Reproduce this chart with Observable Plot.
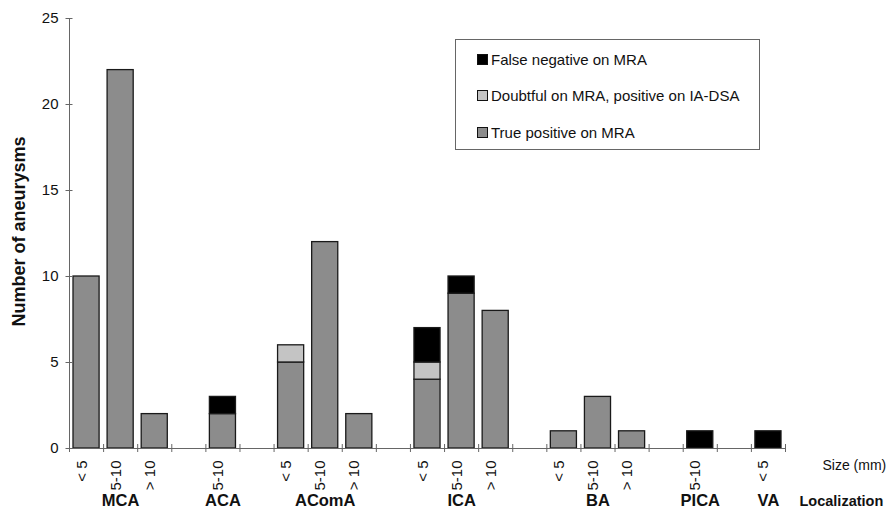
<!DOCTYPE html>
<html>
<head>
<meta charset="utf-8">
<script src="https://cdn.jsdelivr.net/npm/d3@7"></script>
<script src="https://cdn.jsdelivr.net/npm/@observablehq/plot@0.6"></script>
<style>
  body { margin: 0; background: #fff; font-family: "Liberation Sans", Arial, sans-serif; }
  #wrap { position: relative; width: 887px; height: 516px; overflow: hidden; }
  #legend { position: absolute; left: 455px; top: 39px; width: 305px; height: 111px; border: 1px solid #666; box-sizing: border-box; background: #fff; }
  #legend .row { position: absolute; left: 21px; height: 18px; display: flex; align-items: center; font-size: 15px; color: #111; white-space: nowrap; }
  #legend .sw { width: 11px; height: 11px; border: 1px solid #111; box-sizing: border-box; margin-right: 3px; }
</style>
</head>
<body>
<div id="wrap"><div id="chart"></div><div id="legend"></div></div>
<script>
// ---- data ----
const categories = ["True positive on MRA", "Doubtful on MRA, positive on IA-DSA", "False negative on MRA"];
const legendOrder = ["False negative on MRA", "Doubtful on MRA, positive on IA-DSA", "True positive on MRA"];
const colors = ["#8c8c8c", "#c4c4c4", "#000000"];
const slotLoc  = ["MCA","MCA","MCA","","ACA","","AComA","AComA","AComA","","ICA","ICA","ICA","","BA","BA","BA","","PICA","","VA"];
const slotSize = ["< 5","5-10","> 10","","5-10","","< 5","5-10","> 10","","< 5","5-10","> 10","","< 5","5-10","> 10","","5-10","","< 5"];
const truePositive  = [10,22,2,0,2,0,5,12,2,0,4,9,8,0,1,3,1,0,0,0,0];
const doubtful      = [0,0,0,0,0,0,1,0,0,0,1,0,0,0,0,0,0,0,0,0,0];
const falseNegative = [0,0,0,0,1,0,0,0,0,0,2,1,0,0,0,0,0,0,1,0,1];
const localizations = ["MCA","ACA","AComA","ICA","BA","PICA","VA"];
const yTicks = [0,5,10,15,20,25];

// ---- build tables ----
const series = [truePositive, doubtful, falseNegative];
const rows = [];
slotSize.forEach((s, i) => {
  series.forEach((vals, k) => {
    if (vals[i] > 0) rows.push({slot: i, cat: categories[k], value: vals[i]});
  });
});
const sizeRows = slotSize.map((s, i) => ({slot: i, size: s})).filter(d => d.size);
const locRows = localizations.map(loc => {
  const idx = slotLoc.map((l, i) => l === loc ? i : -1).filter(i => i >= 0);
  return {loc, x: d3.mean(idx) + 0.5};
});
const boundaries = d3.range(0, slotSize.length + 1);
const font = "'Liberation Sans', Arial, sans-serif";

const chart = Plot.plot({
  width: 887,
  height: 516,
  marginTop: 18,
  marginBottom: 68,
  marginLeft: 69,
  marginRight: 102,
  x: {domain: [0, slotSize.length], axis: null},
  y: {domain: [0, 25], axis: null},
  color: {domain: categories, range: colors},
  style: {fontFamily: font, background: "#fff", color: "#111", overflow: "visible"},
  marks: [
    Plot.rectY(rows, Plot.stackY({x: "slot", interval: 1, y: "value", fill: "cat", order: null,
      stroke: "#1a1a1a", strokeWidth: 1.3, insetLeft: 4, insetRight: 4})),
    Plot.ruleY([0], {stroke: "#666", strokeWidth: 1}),
    Plot.ruleX([0], {stroke: "#666", strokeWidth: 1}),
    Plot.axisX({ticks: boundaries, tickSize: 8, dy: -4, tickFormat: () => "", stroke: "#666", label: null}),
    Plot.axisY({ticks: yTicks, tickSize: 7, dx: 3.5, tickFormat: () => "", stroke: "#666", label: null}),
    Plot.axisY({ticks: yTicks, tickSize: 0, tickPadding: 11, fontSize: 15, label: null}),
    Plot.text(sizeRows, {x: d => d.slot + 0.5, text: "size", frameAnchor: "bottom", rotate: -90,
      textAnchor: "end", dy: 12, fontSize: 15, fill: "#111"}),
    Plot.text(locRows, {x: "x", text: "loc", frameAnchor: "bottom", dy: 57, fontSize: 16.5,
      fontWeight: "bold", fill: "#111"}),
    Plot.text(["Size (mm)"], {frameAnchor: "bottom-right", dx: 37, dy: 21, textAnchor: "start",
      fontSize: 14, fill: "#111"}),
    Plot.text(["Localization"], {frameAnchor: "bottom-right", dx: 14, dy: 57, textAnchor: "start",
      fontSize: 14.5, fontWeight: "bold", fill: "#111"}),
    Plot.text(["Number of aneurysms"], {frameAnchor: "left", dx: -50, dy: -2, rotate: -90,
      textAnchor: "middle", fontSize: 18, fontWeight: "bold", fill: "#111"})
  ]
});
document.getElementById("chart").appendChild(chart);

// ---- legend ----
const legend = document.getElementById("legend");
legendOrder.forEach((c, i) => {
  const row = document.createElement("div");
  row.className = "row";
  row.style.top = (10 + i * 36.5) + "px";
  const sw = document.createElement("div");
  sw.className = "sw";
  sw.style.background = colors[categories.indexOf(c)];
  const tx = document.createElement("span");
  tx.textContent = c;
  row.appendChild(sw); row.appendChild(tx);
  legend.appendChild(row);
});
</script>
</body>
</html>
